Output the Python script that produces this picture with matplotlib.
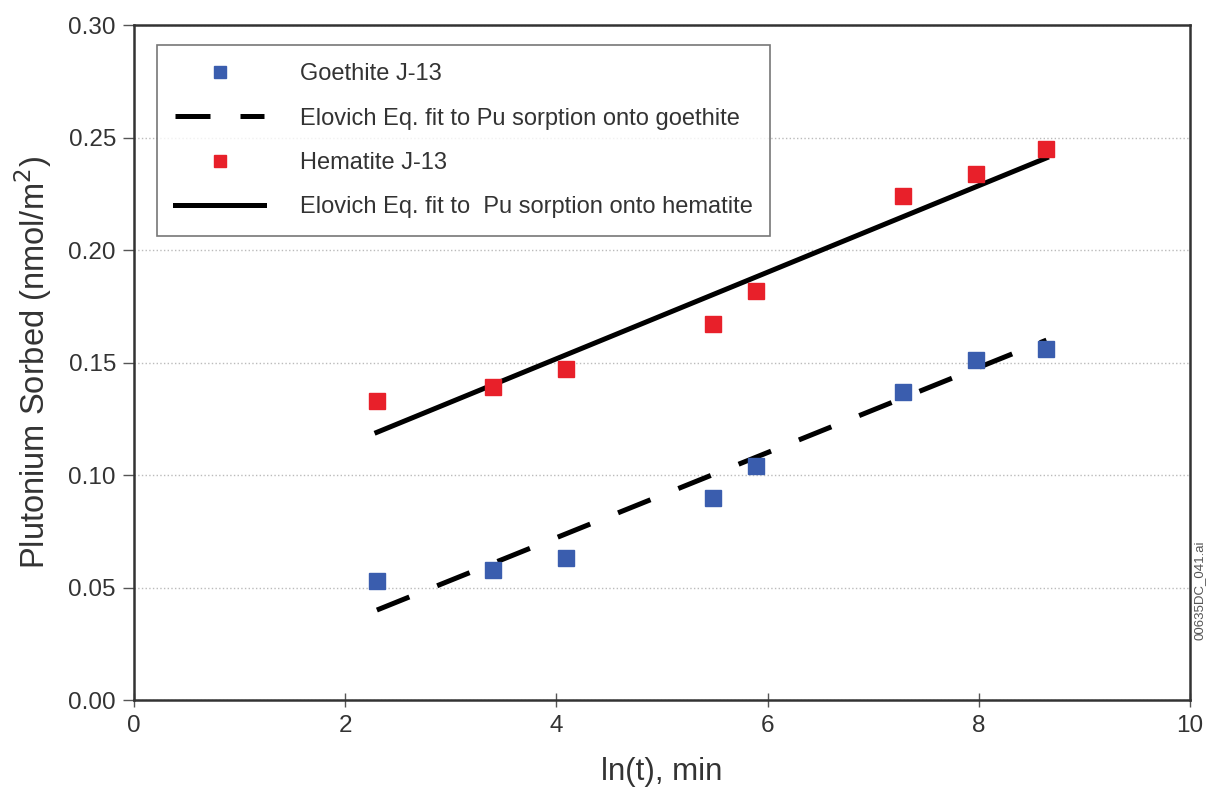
import matplotlib.pyplot as plt

plt.rcParams['font.family'] = ['Liberation Sans', 'DejaVu Sans']

ln_t = [2.30, 3.40, 4.09, 5.48, 5.89, 7.28, 7.97, 8.64]
goethite = [0.053, 0.058, 0.063, 0.090, 0.104, 0.137, 0.151, 0.156]
hematite = [0.133, 0.139, 0.147, 0.167, 0.182, 0.224, 0.234, 0.245]

fit_x = [2.30, 8.64]
goethite_fit = [0.040, 0.160]
hematite_fit = [0.119, 0.241]

fig = plt.figure(figsize=(12.07, 7.87), dpi=100)
ax = fig.add_axes([0.111, 0.1105, 0.875, 0.8575])

ax.plot(ln_t, goethite, 's', color='#3A5DAE', markersize=12, label='Goethite J-13', zorder=3)
ax.plot(fit_x, goethite_fit, color='black', lw=3.6, dashes=(7, 6),
        label='Elovich Eq. fit to Pu sorption onto goethite', zorder=2)
ax.plot(ln_t, hematite, 's', color='#E8202A', markersize=12, label='Hematite J-13', zorder=3)
ax.plot(fit_x, hematite_fit, color='black', lw=3.6,
        label='Elovich Eq. fit to  Pu sorption onto hematite', zorder=2)

ax.set_xlim(0, 10)
ax.set_ylim(0, 0.30)
ax.set_xticks([0, 2, 4, 6, 8, 10])
ax.set_yticks([0.00, 0.05, 0.10, 0.15, 0.20, 0.25, 0.30])
ax.set_yticklabels(['%.2f' % v for v in ax.get_yticks()])
ax.tick_params(axis='x', direction='inout', length=10, width=1, colors='#555555',
               labelcolor='#333333', labelsize=17.5, pad=6)
ax.tick_params(axis='y', direction='out', length=8, width=1, colors='#555555',
               labelcolor='#333333', labelsize=17.5, pad=5)
ax.yaxis.grid(True, linestyle=':', color='#bbbbbb', lw=1)
ax.set_axisbelow(True)
for s in ax.spines.values():
    s.set_linewidth(1.8)
    s.set_color('#333333')

ax.set_xlabel('ln(t), min', fontsize=22.5, color='#333333', labelpad=14)
ax.set_ylabel('Plutonium Sorbed (nmol/m$^2$)', fontsize=23.5, color='#333333', labelpad=10)

leg = ax.legend(loc='upper left', bbox_to_anchor=(0.0218, 0.970), fontsize=17,
                frameon=True, fancybox=False, edgecolor='#555555', handlelength=3.8,
                handletextpad=1.5, borderpad=0.75, labelspacing=0.95, markerscale=0.7,
                borderaxespad=0)
leg.get_frame().set_linewidth(1.2)
for t in leg.get_texts():
    t.set_color('#333333')

fig.text(0.994, 0.25, '00635DC_041.ai', rotation=90, fontsize=9.5, color='#555555',
         ha='center', va='center')

fig.savefig('out.png', dpi=100)
